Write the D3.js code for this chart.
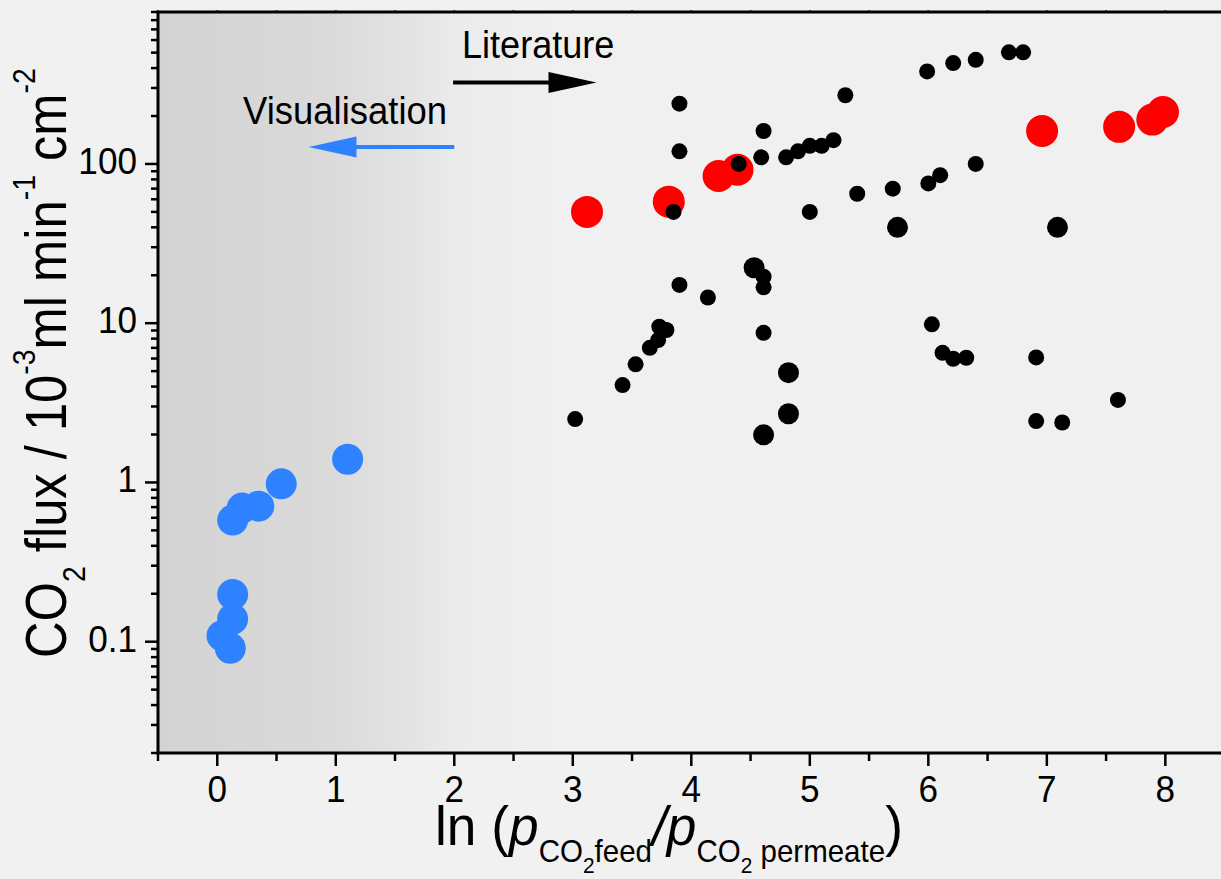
<!DOCTYPE html>
<html>
<head>
<meta charset="utf-8">
<script src="https://cdn.jsdelivr.net/npm/d3@7"></script>
<style>
  html, body { margin: 0; padding: 0; background: #f1f1f1; }
  svg { display: block; font-family: "Liberation Sans", Arial, sans-serif; }
</style>
</head>
<body>
<div id="chart"></div>
<script>
// Dades llegides de la figura: [ln(pfeed/ppermeate), flux]
const visualisation = [[1.10, 1.40], [0.54, 0.98], [0.35, 0.71], [0.21, 0.69], [0.13, 0.58],
    [0.13, 0.198], [0.13, 0.139], [0.04, 0.109], [0.11, 0.091]];

const thisWork = [[3.12, 50], [3.81, 58], [4.23, 84], [4.39, 92], [6.96, 161], [7.61, 171], [7.89, 190], [7.98, 212]];

const literature = [[3.90, 239], [3.90, 120], [3.85, 50], [4.40, 100], [4.61, 161], [4.59, 110], [4.80, 110],
    [4.90, 120], [5.00, 130], [5.10, 130], [5.20, 141], [5.30, 270], [5.99, 381], [6.21, 430], [6.40, 451],
    [6.68, 502], [6.80, 502], [5.40, 65], [5.70, 70], [6.00, 75.5], [6.10, 85], [6.40, 100], [5.00, 50],
    [4.61, 19.6], [4.61, 16.8], [3.90, 17.4], [4.14, 14.5], [3.02, 2.5], [3.42, 4.09], [3.53, 5.52],
    [3.65, 7.0], [3.72, 7.84], [3.73, 9.5], [3.79, 9.06], [4.61, 8.7], [6.03, 9.84], [6.12, 6.52],
    [6.21, 5.98], [6.32, 6.07], [6.91, 6.1], [7.60, 3.3], [6.91, 2.43], [7.13, 2.38]];

const literatureBig = [[5.74, 40], [7.09, 40], [4.53, 22.3], [4.82, 4.89], [4.82, 2.70], [4.61, 1.99]];

const xTicks = [0, 1, 2, 3, 4, 5, 6, 7, 8];
const yTicks = [0.1, 1, 10, 100];
const yTickLabels = ["0.1", "1", "10", "100"];

const W = 1221, H = 879;
const blue = "#2e82ff", red = "#ff0000";

const svg = d3.select("#chart").append("svg")
    .attr("width", W)
    .attr("height", H);

// Escales
const x = d3.scaleLinear().domain([-0.5, 8.5]).range([158, 1224.6]);
const y = d3.scaleLog().domain([0.02, 900]).range([753, 12]);

// Text una mica estret, com a l'original
function squeeze(sel, s) {
    sel.each(function() {
        const t = d3.select(this);
        const tx = +t.attr("x") || 0, ty = +t.attr("y") || 0;
        t.attr("transform", `translate(${tx},${ty}) scale(${s},1) translate(${-tx},${-ty})`);
    });
}

// Fons amb degradat (zona de visualització)
const grad = svg.append("defs").append("linearGradient")
    .attr("id", "bg")
    .attr("gradientUnits", "userSpaceOnUse")
    .attr("x1", x(-0.5)).attr("x2", x(2.9))
    .attr("y1", 0).attr("y2", 0);
[[0, "#d3d3d3"], [0.43, "#dadada"], [0.6, "#e2e2e2"], [0.74, "#ebebeb"], [1, "#f0f0f0"]].forEach(s => {
    grad.append("stop").attr("offset", s[0]).attr("stop-color", s[1]);
});

svg.append("rect")
    .attr("x", x(-0.5)).attr("y", y(900))
    .attr("width", x(8.5) - x(-0.5)).attr("height", y(0.02) - y(900))
    .attr("fill", "url(#bg)");

// Fletxes i anotacions
function arrow(x1, x2, yy, color) {
    const dir = Math.sign(x2 - x1);
    const headLen = 48, half = 10.5;
    svg.append("line")
        .attr("x1", x1).attr("x2", x2 - dir * headLen + dir * 2)
        .attr("y1", yy).attr("y2", yy)
        .attr("stroke", color).attr("stroke-width", 4);
    svg.append("path")
        .attr("d", `M${x2},${yy} L${x2 - dir * headLen},${yy - half} L${x2 - dir * headLen},${yy + half} Z`)
        .attr("fill", color);
}
arrow(x(1.99), x(3.2), 82.5, "#000");
arrow(x(2.0), x(0.77), 147, blue);

svg.append("text")
    .attr("x", 462).attr("y", 58)
    .style("font-size", "38px")
    .text("Literature")
    .call(squeeze, 0.95);

svg.append("text")
    .attr("x", 243).attr("y", 124)
    .style("font-size", "38px")
    .text("Visualisation")
    .call(squeeze, 0.96);

// Punts
svg.selectAll(".red").data(thisWork).enter().append("circle")
    .attr("cx", d => x(d[0])).attr("cy", d => y(d[1]))
    .attr("r", 16).attr("fill", red);

svg.selectAll(".blk").data(literature).enter().append("circle")
    .attr("cx", d => x(d[0])).attr("cy", d => y(d[1]))
    .attr("r", 8).attr("fill", "#000");

svg.selectAll(".blkbig").data(literatureBig).enter().append("circle")
    .attr("cx", d => x(d[0])).attr("cy", d => y(d[1]))
    .attr("r", 10.5).attr("fill", "#000");

svg.selectAll(".blue").data(visualisation).enter().append("circle")
    .attr("cx", d => x(d[0])).attr("cy", d => y(d[1]))
    .attr("r", 15.5).attr("fill", blue);

// Eix X (baix)
const xMinor = d3.range(-0.5, 8.51, 0.5);
svg.append("g").selectAll("line").data(xMinor).enter().append("line")
    .attr("x1", d => x(d)).attr("x2", d => x(d))
    .attr("y1", y(0.02)).attr("y2", d => y(0.02) + (Number.isInteger(d) ? 13 : 8))
    .attr("stroke", "#000").attr("stroke-width", 2.5);

// petites marques a dalt
svg.append("g").selectAll("line").data(xMinor).enter().append("line")
    .attr("x1", d => x(d)).attr("x2", d => x(d))
    .attr("y1", y(900)).attr("y2", y(900) - 2)
    .attr("stroke", "#555").attr("stroke-width", 2);

svg.append("g").selectAll("text").data(xTicks).enter().append("text")
    .attr("x", d => x(d)).attr("y", 802)
    .attr("text-anchor", "middle")
    .style("font-size", "37px")
    .text(d => d)
    .call(squeeze, 0.95);

// Eix Y (esquerra, logarítmic)
const yMinor = [];
[0.01, 0.1, 1, 10, 100].forEach(base => {
    for (let k = 1; k <= 9; k++) {
        const v = +(base * k).toPrecision(3);
        if (v >= 0.02 && v <= 900) yMinor.push(v);
    }
});
svg.append("g").selectAll("line").data(yMinor).enter().append("line")
    .attr("x1", x(-0.5)).attr("x2", d => x(-0.5) - (yTicks.includes(d) ? 13 : 7))
    .attr("y1", d => y(d)).attr("y2", d => y(d))
    .attr("stroke", "#000").attr("stroke-width", 2.5);

svg.append("g").selectAll("text").data(yTicks).enter().append("text")
    .attr("x", 137).attr("y", d => y(d) + 10)
    .attr("text-anchor", "end")
    .style("font-size", "37px")
    .text((d, i) => yTickLabels[i])
    .call(squeeze, 0.95);

// Marc
svg.append("rect")
    .attr("x", x(-0.5)).attr("y", y(900))
    .attr("width", x(8.5) - x(-0.5)).attr("height", y(0.02) - y(900))
    .attr("fill", "none").attr("stroke", "#000").attr("stroke-width", 3);

// Títol eix Y
const yLab = svg.append("g").attr("transform", "translate(66,658) rotate(-90)");
const yt = yLab.append("text").attr("x", 0).attr("y", 0).style("font-size", "57px");
yt.append("tspan").text("CO");
yt.append("tspan").attr("dy", 19).style("font-size", "32px").text("2");
yt.append("tspan").attr("dy", -19).text(" flux / 10");
yt.append("tspan").attr("dy", -31).style("font-size", "32px").text("-3");
yt.append("tspan").attr("dy", 31).text("ml min");
yt.append("tspan").attr("dy", -31).style("font-size", "32px").text("-1");
yt.append("tspan").attr("dy", 31).text(" cm");
yt.append("tspan").attr("dy", -31).style("font-size", "32px").text("-2");
const yLen = yt.node().getBBox().width;
yt.attr("transform", `scale(${590 / yLen},1)`);

// Títol eix X
const xt = svg.append("text").attr("x", 435).attr("y", 845).style("font-size", "56px");
xt.append("tspan").text("ln (");
xt.append("tspan").style("font-style", "italic").text("p");
xt.append("tspan").attr("dy", 17).style("font-size", "31px").text("CO");
xt.append("tspan").attr("dy", 11).style("font-size", "22px").text("2");
xt.append("tspan").attr("dy", -11).style("font-size", "31px").text("feed");
xt.append("tspan").attr("dy", -17).style("font-style", "italic").text("/p");
xt.append("tspan").attr("dy", 17).style("font-size", "31px").text("CO");
xt.append("tspan").attr("dy", 11).style("font-size", "22px").text("2");
xt.append("tspan").attr("dy", -11).style("font-size", "31px").text(" permeate");
xt.append("tspan").attr("dy", -17).text(")");
const xLen = xt.node().getBBox().width;
const sx = 468 / xLen;
xt.attr("transform", `translate(435,0) scale(${sx},1) translate(-435,0)`);
</script>
</body>
</html>
